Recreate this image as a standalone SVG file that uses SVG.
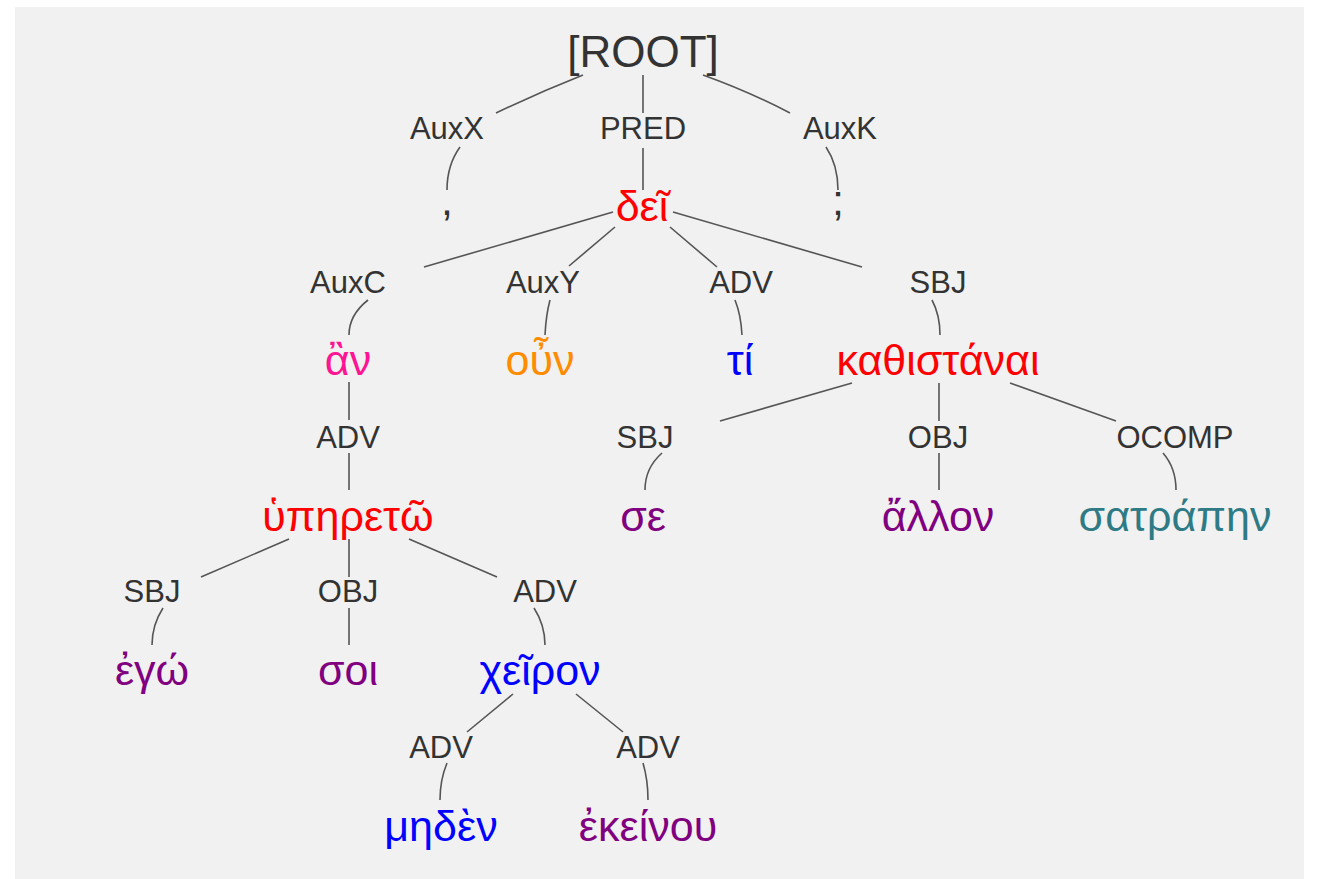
<svg xmlns="http://www.w3.org/2000/svg" width="1317" height="879" viewBox="0 0 1317 879">
<style>
text{font-family:"Liberation Sans",Arial,"DejaVu Sans",sans-serif;text-anchor:middle}
.root{font-size:44px;fill:#333}
.lbl{font-size:31px;fill:#333}
.w{font-size:43px}
.e path{fill:none;stroke:#555;stroke-width:1.6}
</style>
<rect x="0" y="0" width="1317" height="879" fill="#fff"/>
<rect x="15" y="7" width="1289" height="872" fill="#f1f1f1"/>
<g class="e" id="connectors">
<path d="M583 75 Q540 92 496 113"/><path d="M460 147 Q447 165 447 190"/>
<path d="M643 75 L643 113"/><path d="M643 148 L643 190"/>
<path d="M703 75 Q750 92 790 113"/><path d="M826 147 Q838 165 838 190"/>
<path d="M613 212 L424 267"/><path d="M368 300 Q349 315 349 335"/>
<path d="M615 227 L569 266"/><path d="M550 300 Q546 315 545 335"/>
<path d="M670 227 L717 267"/><path d="M735 300 Q741 315 742 335"/>
<path d="M673 212 L862 267"/><path d="M932 300 Q940 315 940 335"/>
<path d="M349 382 L349 420"/><path d="M349 453 L349 490"/>
<path d="M852 383 L720 421"/><path d="M662 453 Q645 468 645 490"/>
<path d="M939 383 L939 421"/><path d="M939 453 L939 490"/>
<path d="M1010 383 L1116 421"/><path d="M1163 453 Q1176 468 1176 490"/>
<path d="M289 539 L201 577"/><path d="M163 608 Q152 625 152 645"/>
<path d="M349 539 L349 577"/><path d="M349 608 L349 645"/>
<path d="M409 539 L497 577"/><path d="M534 608 Q545 625 545 645"/>
<path d="M513 694 L467 732"/><path d="M447 763 Q440 780 440 800"/>
<path d="M576 694 L623 732"/><path d="M643 763 Q648 780 648 800"/>
</g>
<g id="root"><text class="root" x="643" y="67">[ROOT]</text></g>
<g id="l-auxx"><text class="lbl" x="447" y="139">AuxX</text></g>
<g id="l-pred"><text class="lbl" x="643" y="139">PRED</text></g>
<g id="l-auxk"><text class="lbl" x="840" y="139">AuxK</text></g>
<g id="n-comma"><text class="w" x="447" y="215" fill="#333">,</text></g>
<g id="n-dei"><text class="w" x="642" y="221" fill="#ff0000">δεῖ</text></g>
<g id="n-semi"><text class="w" x="838" y="215" fill="#333">;</text></g>
<g id="l-auxc"><text class="lbl" x="348" y="293">AuxC</text></g>
<g id="l-auxy"><text class="lbl" x="543" y="293">AuxY</text></g>
<g id="l-adv1"><text class="lbl" x="741" y="293">ADV</text></g>
<g id="l-sbj1"><text class="lbl" x="938" y="293">SBJ</text></g>
<g id="n-an"><text class="w" x="348" y="375" fill="#ff1493">ἂν</text></g>
<g id="n-oun"><text class="w" x="540" y="375" fill="#ff8c00">οὖν</text></g>
<g id="n-ti"><text class="w" x="740" y="375" fill="#0000ff">τί</text></g>
<g id="n-kath"><text class="w" x="938" y="375" fill="#ff0000">καθιστάναι</text></g>
<g id="l-adv2"><text class="lbl" x="348" y="448">ADV</text></g>
<g id="l-sbj2"><text class="lbl" x="645" y="448">SBJ</text></g>
<g id="l-obj1"><text class="lbl" x="938" y="448">OBJ</text></g>
<g id="l-ocomp"><text class="lbl" x="1175" y="448">OCOMP</text></g>
<g id="n-hyp"><text class="w" x="348" y="531" fill="#ff0000">ὑπηρετῶ</text></g>
<g id="n-se"><text class="w" x="643" y="531" fill="#800080">σε</text></g>
<g id="n-allon"><text class="w" x="938" y="531" fill="#800080">ἄλλον</text></g>
<g id="n-satr"><text class="w" x="1175" y="531" fill="#2f7b85">σατράπην</text></g>
<g id="l-sbj3"><text class="lbl" x="152" y="602">SBJ</text></g>
<g id="l-obj2"><text class="lbl" x="348" y="602">OBJ</text></g>
<g id="l-adv3"><text class="lbl" x="545" y="602">ADV</text></g>
<g id="n-ego"><text class="w" x="152" y="685" fill="#800080">ἐγώ</text></g>
<g id="n-soi"><text class="w" x="348" y="685" fill="#800080">σοι</text></g>
<g id="n-cheir"><text class="w" x="540" y="685" fill="#0000ff">χεῖρον</text></g>
<g id="l-adv4"><text class="lbl" x="441" y="758">ADV</text></g>
<g id="l-adv5"><text class="lbl" x="648" y="758">ADV</text></g>
<g id="n-meden"><text class="w" x="441" y="841" fill="#0000ff">μηδὲν</text></g>
<g id="n-ekeinou"><text class="w" x="648" y="841" fill="#800080">ἐκείνου</text></g>
</svg>
